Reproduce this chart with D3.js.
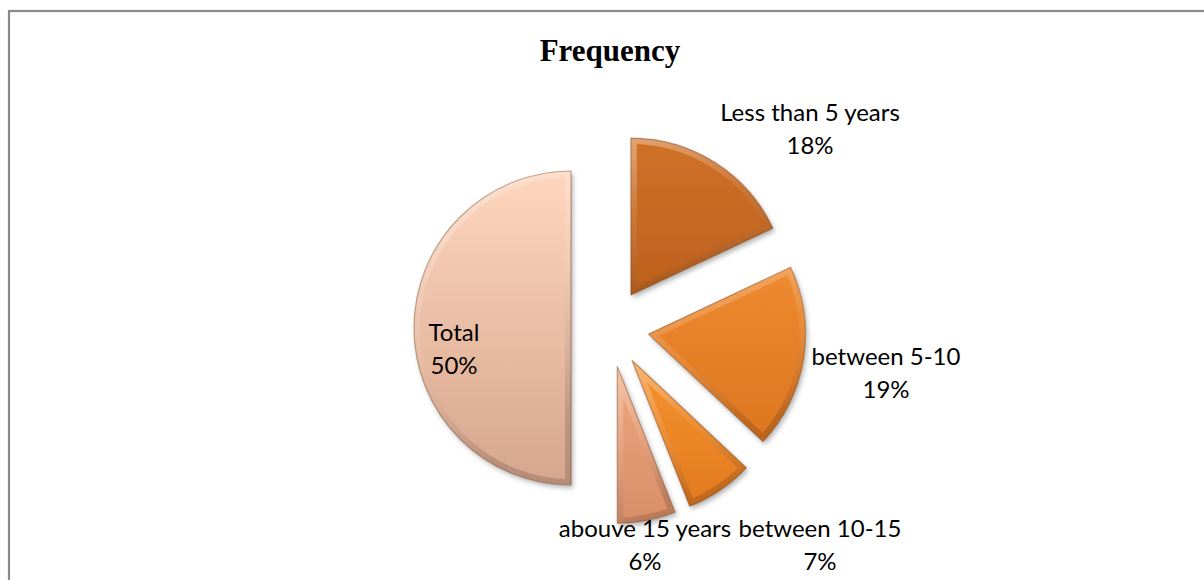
<!DOCTYPE html>
<html>
<head>
<meta charset="utf-8">
<script src="https://cdn.jsdelivr.net/npm/d3@7"></script>
<style>
    body { margin: 0; background: #fff; }
    svg { display: block; }
</style>
</head>
<body>
<div id="d3-chart"></div>
<script>
// Chart data
const categories = ['Less than 5 years', 'between 5-10', 'between 10-15', 'abouve 15 years', 'Total'];
const values = [18, 19, 7, 6, 50];
const title = 'Frequency';

// Slice colours: [top, bottom] of the gradient
const sliceColors = [
    ['#cf7128', '#bd601d'],
    ['#ee8a30', '#dc7621'],
    ['#f5922f', '#e27a1f'],
    ['#eea67e', '#d88f69'],
    ['#fed6be', '#d6a58d']
];

// Label anchors relative to the pie centre (first line baseline)
const labelOffsets = [
    [200, -207],
    [276, 37],
    [210, 209],
    [35, 209],
    [-156, 13]
];

const width = 1204, height = 580;
const center = { x: 610, y: 328 };
const radius = 157;
const explode = 39;

const svg = d3.select('#d3-chart').append('svg')
    .attr('width', width)
    .attr('height', height);

// Outer frame
svg.append('rect')
    .attr('x', 9)
    .attr('y', 11)
    .attr('width', 1300)
    .attr('height', 700)
    .attr('fill', 'none')
    .attr('stroke', '#8a8a8a')
    .attr('stroke-width', 2.2);

// Title
svg.append('text')
    .attr('x', center.x)
    .attr('y', 61)
    .attr('text-anchor', 'middle')
    .style('font-family', '"Liberation Serif", "Times New Roman", serif')
    .style('font-weight', 'bold')
    .style('font-size', '31px')
    .attr('fill', '#000')
    .text(title);

const defs = svg.append('defs');

const shadow = defs.append('filter')
    .attr('id', 'shadow')
    .attr('x', '-20%').attr('y', '-20%')
    .attr('width', '140%').attr('height', '140%');
shadow.append('feDropShadow')
    .attr('dx', 2).attr('dy', 3)
    .attr('stdDeviation', 2.5)
    .attr('flood-color', '#000')
    .attr('flood-opacity', 0.3);

const pie = d3.pie().sort(null).startAngle(0).endAngle(2 * Math.PI);
const arcs = pie(values);
const arc = d3.arc().innerRadius(0).outerRadius(radius);

const table = categories.map((c, i) => ({ name: c, value: values[i], a: arcs[i], colors: sliceColors[i] }));

table.forEach((d, i) => {
    const g = defs.append('linearGradient')
        .attr('id', 'grad' + i)
        .attr('x1', 0).attr('y1', 0).attr('x2', 0).attr('y2', 1);
    g.append('stop').attr('offset', '0%').attr('stop-color', d.colors[0]);
    g.append('stop').attr('offset', '100%').attr('stop-color', d.colors[1]);

    defs.append('clipPath')
        .attr('id', 'clip' + i)
        .append('path')
        .attr('d', arc(d.a));
});

// Bevel gradient: light at the top, dark at the bottom
const bevel = defs.append('linearGradient')
    .attr('id', 'bevel')
    .attr('x1', 0).attr('y1', 0).attr('x2', 0.3).attr('y2', 1);
bevel.append('stop').attr('offset', '0%').attr('stop-color', '#fff').attr('stop-opacity', 0.35);
bevel.append('stop').attr('offset', '50%').attr('stop-color', '#fff').attr('stop-opacity', 0.08);
bevel.append('stop').attr('offset', '100%').attr('stop-color', '#000').attr('stop-opacity', 0.15);

const pieG = svg.append('g')
    .attr('transform', 'translate(' + center.x + ',' + center.y + ')');

const slices = pieG.selectAll('.slice')
    .data(table)
    .enter().append('g')
    .attr('class', 'slice')
    .attr('transform', d => {
        const mid = (d.a.startAngle + d.a.endAngle) / 2;
        return 'translate(' + (Math.sin(mid) * explode) + ',' + (-Math.cos(mid) * explode) + ')';
    });

slices.append('path')
    .attr('d', d => arc(d.a))
    .attr('fill', (d, i) => 'url(#grad' + i + ')')
    .attr('filter', 'url(#shadow)');

// Bevel rim and darker edge
slices.append('path')
    .attr('d', d => arc(d.a))
    .attr('fill', 'none')
    .attr('stroke', 'url(#bevel)')
    .attr('stroke-width', 12)
    .attr('clip-path', (d, i) => 'url(#clip' + i + ')');
slices.append('path')
    .attr('d', d => arc(d.a))
    .attr('fill', 'none')
    .attr('stroke', '#6e3610')
    .attr('stroke-opacity', 0.4)
    .attr('stroke-width', 1.2);

// Data labels
const labels = pieG.selectAll('.label')
    .data(table)
    .enter().append('text')
    .attr('class', 'label')
    .attr('text-anchor', 'middle')
    .style('font-family', 'Lato, "Open Sans", sans-serif')
    .style('font-size', '24px')
    .attr('fill', '#000')
    .attr('transform', (d, i) => 'translate(' + labelOffsets[i][0] + ',' + labelOffsets[i][1] + ')');
labels.append('tspan')
    .attr('x', 0)
    .attr('y', 0)
    .text(d => d.name);
labels.append('tspan')
    .attr('x', 0)
    .attr('y', 33)
    .text(d => d.value + '%');
</script>
</body>
</html>
